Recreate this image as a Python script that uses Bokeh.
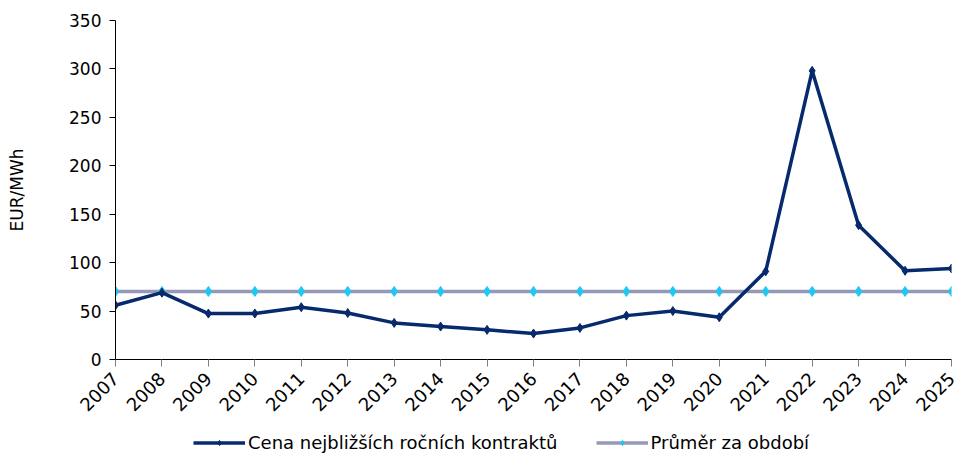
from math import pi
from bokeh.plotting import figure
from bokeh.layouts import column
from bokeh.models import Range1d, FixedTicker, Legend, LegendItem
from bokeh.embed import file_html
from bokeh.resources import INLINE

years = list(range(2007, 2026))
price = [56, 69, 47.4, 47.5, 54, 48, 37.8, 34, 30.6, 26.8, 32.6, 45.3, 50, 43.6, 91, 298, 138.7, 91.6, 94]
average = [70.3] * 19
y_ticks = [0, 50, 100, 150, 200, 250, 300, 350]
series_names = ["Cena nejbližších ročních kontraktů", "Průměr za období"]

FONT = "DejaVu Sans"
NAVY = "#062A6C"
GREY = "#9599B6"
CYAN = "#1EC8F2"

p = figure(width=960, height=420, output_backend="svg", toolbar_location=None,
           x_range=Range1d(2007, 2025), y_range=Range1d(0, 350),
           min_border_left=115, min_border_right=9, min_border_top=20, min_border_bottom=60)
p.outline_line_color = None
p.xgrid.visible = False
p.ygrid.visible = False

p.line(years, average, line_color=GREY, line_width=3.5)
p.scatter(years, average, marker="diamond", size=10, fill_color=CYAN, line_color=CYAN)
p.line(years, price, line_color=NAVY, line_width=3.5)
p.scatter(years, price, marker="diamond", size=9, fill_color=NAVY, line_color=NAVY)

p.xaxis.ticker = FixedTicker(ticks=years)
p.xaxis.major_label_orientation = pi / 4
p.xaxis.major_label_text_font = FONT
p.xaxis.major_label_text_font_size = "18px"
p.xaxis.major_label_text_color = "#000000"
p.xaxis.major_tick_line_color = "#808080"
p.xaxis.major_tick_out = 7
p.xaxis.major_tick_in = 0
p.xaxis.major_label_standoff = 9
p.xaxis.minor_tick_line_color = None
p.xaxis.axis_line_color = "#000000"

p.yaxis.ticker = FixedTicker(ticks=y_ticks)
p.yaxis.major_label_text_font = FONT
p.yaxis.major_label_text_font_size = "17px"
p.yaxis.major_label_text_color = "#000000"
p.yaxis.major_tick_line_color = "#000000"
p.yaxis.major_tick_out = 6
p.yaxis.major_tick_in = 0
p.yaxis.minor_tick_line_color = None
p.yaxis.axis_line_color = "#000000"
p.yaxis.axis_label = "EUR/MWh"
p.yaxis.axis_label_text_font = FONT
p.yaxis.axis_label_text_font_size = "17px"
p.yaxis.axis_label_text_font_style = "normal"
p.yaxis.axis_label_text_color = "#000000"
p.yaxis.axis_label_standoff = 39
p.yaxis.major_label_standoff = 8

# legend strip below the chart (series drawn off-range so only the legend shows)
lg = figure(width=960, height=34, output_backend="svg", toolbar_location=None,
            x_range=Range1d(0, 1), y_range=Range1d(0, 1),
            min_border_left=0, min_border_right=0, min_border_top=0, min_border_bottom=0)
lg.axis.visible = False
lg.xgrid.visible = False
lg.ygrid.visible = False
lg.outline_line_color = None
l1 = lg.line(years, price, line_color=NAVY, line_width=3.5)
m1 = lg.scatter(years, price, marker="diamond", size=9, fill_color=NAVY, line_color=NAVY)
l2 = lg.line(years, average, line_color=GREY, line_width=3.5)
m2 = lg.scatter(years, average, marker="diamond", size=10, fill_color=CYAN, line_color=CYAN)

legend = Legend(items=[
    LegendItem(label=series_names[0], renderers=[l1, m1]),
    LegendItem(label=series_names[1], renderers=[l2, m2]),
], orientation="horizontal", location=(78, 1))
legend.label_text_font = FONT
legend.label_text_font_size = "18px"
legend.label_text_color = "#000000"
legend.glyph_width = 52
legend.glyph_height = 13
legend.label_height = 13
legend.label_standoff = 3
legend.spacing = 38
legend.padding = 0
legend.margin = 0
legend.border_line_color = None
legend.background_fill_alpha = 0
lg.add_layout(legend, "center")

layout = column(p, lg, spacing=0)
open("out.html", "w").write(file_html(layout, INLINE))
